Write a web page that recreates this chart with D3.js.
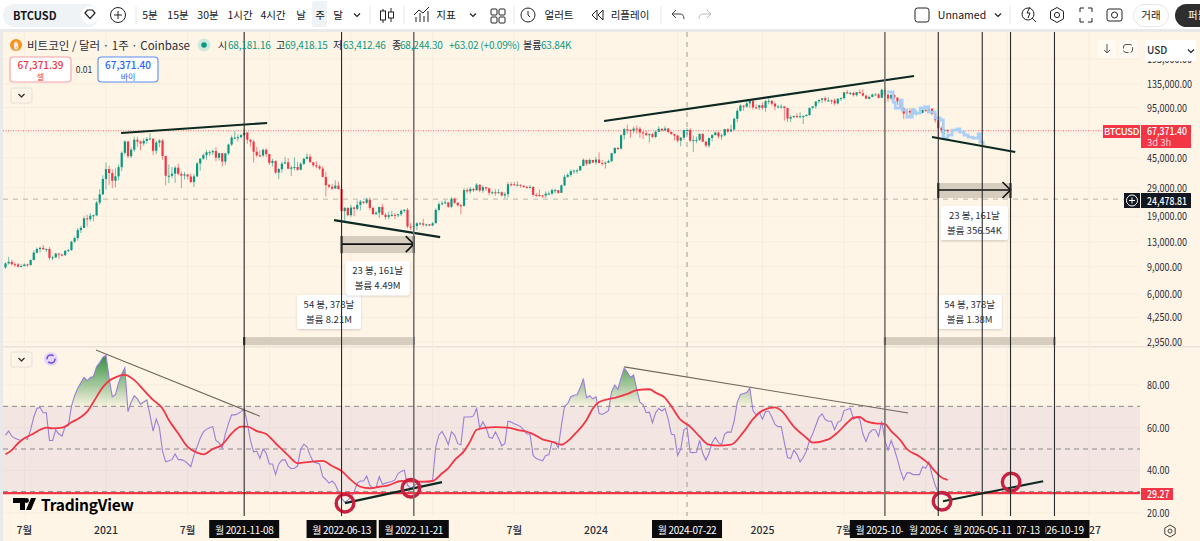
<!DOCTYPE html>
<html><head><meta charset="utf-8">
<script src="https://cdn.jsdelivr.net/npm/d3@7/dist/d3.min.js"></script>
<style>
html,body{margin:0;padding:0;background:#fff;overflow:hidden}
svg{display:block}
text{font-family:"Noto Sans CJK KR","Noto Sans",sans-serif;fill:#131722}
</style></head><body><svg id="c" width="1200" height="541" viewBox="0 0 1200 541"></svg>
<script>
// ---------- data (weekly, first candle 2020-05-25) ----------
const firstWeek = "2020-05-25";
const firstOpen = 8900;
const closes = [9450,9670,9340,9300,9000,9070,9300,9210,9930,11080,11680,11900,11650,11700,10250,10330,10930,10780,10680,11380,11500,13030,13750,15480,15970,18400,18190,19150,19270,23250,26270,33000,
38200,36000,32100,34300,39300,48600,57500,46200,50900,59000,57400,55800,58000,59800,60000,50100,56600,58300,46400,34600,34600,35700,39000,35600,34700,35300,34250,31530,34300,41500,44600,47000,49000,49000,49900,45200,48300,42700,48200,54900,60900,60900,61300,63200,65500,59000,57300,49400,46800,46700,50800,47700,
41900,43100,36300,38200,41400,42200,38400,39100,39400,37800,41300,44500,45800,42200,40400,39700,38500,34000,30100,29400,28600,29900,28400,20500,21500,19300,21600,21200,22500,23600,23200,24300,21500,19550,20000,21800,19400,18800,19300,19400,19250,19570,20600,20900,16300,16280,16450,17100,17100,16750,16840,16540,
17120,20870,22700,23030,23320,21860,24630,23170,22350,22150,27990,27480,28450,27900,30300,27800,29230,28700,26910,27100,26850,27100,25850,26340,30540,30470,30290,30290,29860,29350,29050,29300,26050,26010,25870,25830,26530,26580,27970,27970,26860,29990,34080,35050,37060,37390,37470,39970,43800,41370,43720,42150,
43950,41800,41600,42000,43000,48300,52150,51730,63100,68900,68400,67200,69600,69400,65700,64900,63100,64000,61500,66300,69300,67800,69650,66200,64300,62700,58200,60800,68100,68200,58200,58700,58900,64200,57300,54150,60500,63200,65600,62000,62900,69000,66600,68700,80400,90500,97700,96400,101100,104500,95200,95000,98300,
94500,104400,104800,100600,96500,96500,96600,94300,80600,82500,83800,82300,83500,83700,85100,94600,96900,104100,106500,109000,105700,105700,105500,101000,108300,109200,119100,117300,117900,114200,119300,117500,113500,108300,111200,115300,115300,109700,123500,115000,108700,114500,110100,104000,94200,86800,90400,88200,88200,88200,87900,91500,
90500,93500,86500,78700,70000,68181,68244,67371];
const highs = [9600,10400,10000,9600,9500,9400,9450,9400,10000,11450,11950,12100,12400,11800,12050,10580,11050,10980,10900,11500,11720,13200,14050,15950,16500,18950,19400,19900,19500,23800,28400,34800,
42000,40100,38000,38500,40900,49700,58400,57500,52600,61800,61700,58500,60200,61200,64900,57600,58000,59500,59600,46000,40800,39400,40000,41300,36700,36600,35200,35800,35400,42500,44700,48100,50500,50500,51000,52900,48800,48500,48500,55700,62900,67000,63700,64300,69000,66300,59400,59000,53000,50200,51800,52100,
47600,44500,43500,38900,42600,45800,44800,40000,45400,42500,42300,45100,48200,47500,42400,42900,40800,39800,36600,30700,30700,32400,31700,29500,21800,21600,22500,21900,24000,24200,23700,25000,25200,21800,20500,21800,22800,19900,20300,20500,19900,19700,21000,21100,21500,17200,17000,17400,17400,18300,17000,16900,
17400,21300,23400,23800,24200,23400,25200,25000,23500,22800,28800,28900,29200,28900,31000,30500,30000,29300,29100,27600,28300,28400,27400,27100,31400,31500,31500,31800,30400,30000,29800,30200,29700,26800,28200,26100,27500,27500,28600,28600,28000,30400,35200,35900,38000,37900,38400,40200,44700,43500,44700,43700,
45900,48900,43600,42800,43900,48600,52800,52900,64000,70200,73800,68100,71700,72800,71300,67100,67200,65000,65500,67700,71900,70000,71900,70000,66500,63400,63800,61400,68400,70000,70000,62800,61800,65000,65000,58000,61000,64100,66500,66500,64400,69500,70000,73600,81800,93500,99800,98700,103900,105000,108300,99900,99000,
102700,106000,109000,106500,102500,98800,99500,96000,95000,85000,84500,87500,88500,85000,86100,86500,95800,97900,104300,107000,111900,111000,106800,108900,108700,110500,119500,123200,120000,120000,119300,124400,124500,113500,113400,116700,117900,117900,125700,126200,115900,116000,116400,110800,107000,95500,93000,94000,94600,90500,90600,94800,
94800,97800,93500,89000,79000,72000,69418,68700];
const lows = [8700,9280,9100,8950,8900,8950,9050,9000,9150,9900,10950,11100,11550,11150,9900,9880,10200,10150,10500,10550,11200,11400,12800,13200,14800,15950,16300,17600,17600,19000,22500,26000,
28200,30100,28800,29200,32300,37000,47100,44900,44900,49300,53100,50400,54000,55500,58700,47000,47500,52900,43900,30000,31000,33400,31100,34900,28800,32700,32700,31000,29300,33900,37300,43800,43900,46400,47000,42800,43400,39700,40700,47000,53900,59600,57500,60100,62300,55600,53300,42000,45500,45600,45600,45700,
40600,39700,35500,32900,36200,41800,38100,34400,37500,37200,37600,40500,44200,42700,39200,38600,37700,33700,25400,28700,28000,28900,28200,20100,17600,19000,18800,19000,20700,20700,22700,22700,20800,19500,19600,18500,19400,18100,18100,18900,18200,18700,19100,20000,15900,15500,15400,15500,16700,16300,16300,16400,
16500,17300,20400,22300,22700,21500,21400,22800,21900,19600,21900,26600,26500,27200,27800,27100,26900,27700,25900,26300,25800,26500,25400,24800,25000,29500,29900,29500,29000,28900,28600,28700,25400,25300,25300,24900,24900,26000,26000,26600,26500,26800,29700,33500,34100,35500,35700,37000,39900,40200,41000,41600,
40800,41500,40200,38500,41900,42300,47700,50500,50900,59000,64500,60800,65000,64500,60700,59600,62400,56500,60800,60200,66200,66700,67100,65000,63400,58400,56500,53500,59000,63300,57100,49000,56100,57800,57200,52600,52500,57500,62700,59900,59000,62000,65300,66800,67500,76500,89500,90700,94600,94400,92200,92500,91500,
91800,89200,99500,97700,91200,94000,93300,78200,76600,76600,81100,81700,81200,74500,83100,83900,92800,93300,100800,101500,102900,103100,100300,98200,99600,105000,107400,116000,114800,111900,111900,116700,112000,108000,107300,110700,114800,108700,112500,102000,103500,106500,106300,98900,94000,80500,86000,83800,84700,84500,86500,87000,
89500,90000,84500,75700,60000,65100,63412,65000];
const rsiValues = [56.5,58.4,56,55,54.5,54,55,54.5,59,65,
69,69.5,67,67,54,54,59,57,56,60.5,
61,70,75,78.5,81,83.6,82,83.5,84,88.5,
90.5,93,94,83,74.5,75.5,81,85,88,67.5,
72,75,73.5,71,72,73,66,58.4,64,60,
49,44,44.5,45,47.7,45,45,44.4,43.2,41.7,
47,51,55,58,59.2,60,60.5,54,53,50.5,
57,62,66,66,66.5,67.5,68.6,62,54,48.7,
49,45.6,50,48,43,43,38,43,44.8,45,
42,40.8,41,42,50,52.2,51,47,44,43.5,
43,37,35.7,34,35,33.5,30,27,25,26,
27.5,30,34,35,35,37.3,33,31.6,32,37,
33.5,34,34.4,34.8,35.5,38.5,39.5,40,33,31.6,
32.5,34,34.5,34.7,34.5,34.4,35.5,51,56.6,58.2,
55.5,52,58,56.5,52.5,52,65,65,65,65.5,
69,59.7,62.8,60,55.5,55,58,55,51.5,52.5,
63,62.6,61.8,61.2,60.5,59,57,57,47,45.5,
45,44.5,47,47.3,53.4,53.4,50.5,61,70,71.2,
74.5,75.2,75.4,78.8,83,74,75,73.5,74.5,66.7,
66.2,67,68,77,80,78,83.3,88,86,83.5,
84.7,78,72,70.8,67,67.3,62.3,67,69,67.8,
69,64,57,56.6,47,50,59,60,48.5,48.3,
48.5,54,48,44.8,48,53,55.5,53,52,57,
58,57.8,63,72,75.6,76,76.5,78.5,68,66,
67.2,64,67.5,67.8,65,61.5,60.5,60.5,53,46,
45.5,49.5,47.5,44,46,49,54,57,61,65,
66.5,63.8,63,63,59,62.5,63.3,68,68.5,69,
64,65,64,57,53.5,57.5,59,59,56,63,
54,49.5,54,50,45,39.6,35.6,38.8,38.8,38,
38,38,41.7,41,44,38,33,29.7,29,28.5,28];
const smaWeeks = [0,2,4,6,9,11,13,15,18,21,24,26,28,31,33,35,38,41,44,47,50,52,55,58,61,63,66,69,72,75,77,80,83,86,90,93,97,101,104,107,110,113,116,119,122,126,130,133,136,139,141,143,146,148,150,153,156,160,163,168,171,174,177,179,181,185,187,189,192,194,198,201,205,207,210,212,215,218,221,224,227,231,235,238,241,245,247,251,255,257,262,265,268,270,272,274,277,280,282,285,287,291,294,296,298,300];
const smaValues = [47.5,49.5,52.7,55,57.3,59,60,59.7,60,62.5,65,67.5,72,79,82,83.6,84.7,82.3,77.6,73,69,63.6,57.3,51,48.3,47.5,50,52,57.3,60.5,60.5,58.4,57,52.7,47,43.3,44,44.4,42,39.7,35.5,32.3,31.6,32.3,33,35,34.7,34.7,35,38.6,41,44.8,49,53.7,59,60,60.3,60,59,57,54.5,53.4,52,53.7,56.6,63.6,69,72,73.4,74,75.8,77.6,78,76.4,74,70,63.6,60.5,55.8,52,51.6,52,58,64,68,69.5,68,60.5,55.3,53,54.5,57.8,62.3,64.7,65,63,62,61.7,58.4,54,50,46.5,43,39.5,36.7,35.5];
const ghostWeeks = [280.7,282.6,283.3,284.8,285.5,287,288.7,289.6,291.2,292.8,293.8,296,297.6,298.6,300,301.4,303,303.9,305.2,306.5,308,309.7,310.3,311.3];
const ghostPrices = [119600,103100,94350,106200,91600,82600,91600,87600,94350,95800,88900,81400,79000,60500,63200,68100,69200,66100,63200,61400,60500,64200,57000,54500];
const priceTicks = [195000,135000,95000,65000,45000,29000,19000,13000,9000,6000,4250,2950];
const priceLabels = [195000,135000,95000,45000,29000,19000,13000,9000,6000,4250,2950];
const rsiTicks = [80,60,40,20];
const rsiLevels = [70,50,30];
const timeGrid = ["2020-07-06","2021-01-04","2021-07-05","2022-01-03","2022-07-04","2023-01-02","2023-07-03","2024-01-01","2024-07-01","2025-01-06","2025-07-07","2026-01-05","2026-07-06","2027-01-04"];
const timeTicks = [["2020-07-06","7월"],["2021-01-04","2021"],["2021-07-05","7월"],["2023-07-03","7월"],["2024-01-01","2024"],["2025-01-06","2025"],["2025-07-07","7월"],["2027-01-04","2027"]];
const markerDates = ["2021-11-08","2022-06-13","2022-11-21","2025-10-06","2026-02-02","2026-05-11","2026-07-13","2026-10-19"];
const thickMarkers = ["2022-11-21","2025-10-06"];
const markerDrawOrder = ["2021-11-08","2022-06-13","2022-11-21","2024-07-22","2025-10-06","2026-02-02","2026-10-19","2026-07-13","2026-05-11"];
const crossDate = "2024-07-22";
const crossPrice = 24478.81;
const lastPrice = 67371.40;
const rsiFloor = 29.27;
const priceTrends = [[36.8,65150,83.3,75580],[104.6,17950,138.4,13960],[190.6,77860,289.3,151600],[295,61400,321.5,49160]];
const rsiFalling = [[28.8,96.4,81,65.4],[197,88.5,287.4,66.9]];
const rsiRising = [[108.1,24.6,139,34.5],[298.5,25.5,330.4,34.9]];
const rsiCircles = [[108.1,24.6],[129.1,31.6],[298.2,25.5],[320.2,34.5]];
const measures = [
 {from:"2021-11-08",to:"2022-11-21",top:3171,bottom:2817,label:"54 봉, 378날",vol:"볼륨 8.21M",above:true,arrow:null},
 {from:"2022-06-13",to:"2022-11-21",top:14170,bottom:11000,label:"23 봉, 161날",vol:"볼륨 4.49M",above:false,arrow:12570},
 {from:"2025-10-06",to:"2026-10-19",top:3171,bottom:2817,label:"54 봉, 378날",vol:"볼륨 1.38M",above:true,arrow:null},
 {from:"2026-02-02",to:"2026-07-13",top:31060,bottom:24870,label:"23 봉, 161날",vol:"볼륨 356.54K",above:false,arrow:28000}
];

// ---------- helpers / scales ----------
const PL=3, PR=1140, TOP=32, SPLIT=346, BOT=516;
const GREEN="#089981", RED="#f23645", CREAM="#fff5e6", GRID="#f6eddf", DARK="#131722";
const weekOf = s => (Date.parse(s)-Date.parse(firstWeek))/(7*864e5);
const x = d3.scaleLinear().domain([0,300]).range([5.5,947.7]);
const xd = s => x(weekOf(s));
const yP = d3.scaleLog().domain([195000,2950]).range([59,342]);
const yR = d3.scaleLinear().domain([80,20]).range([385,513]);
const fmt = d3.format(",.2f");
const svg = d3.select("#c");
const defs = svg.append("defs");
const shadow = defs.append("filter").attr("id","sh").attr("x","-20%").attr("y","-20%").attr("width","140%").attr("height","150%");
shadow.append("feDropShadow").attr("dx",0).attr("dy",1).attr("stdDeviation",1.2).attr("flood-color","#000").attr("flood-opacity",.18);
const grad = defs.append("linearGradient").attr("id","gg").attr("gradientUnits","userSpaceOnUse").attr("x1",0).attr("x2",0).attr("y1",yR(92)).attr("y2",yR(70));
grad.append("stop").attr("offset",0).attr("stop-color","#2f8f3d").attr("stop-opacity",.92);
grad.append("stop").attr("offset",1).attr("stop-color","#2f8f3d").attr("stop-opacity",.03);
defs.append("clipPath").attr("id","above70").append("rect").attr("x",PL).attr("width",PR-PL).attr("y",TOP).attr("height",yR(70)-TOP);
defs.append("clipPath").attr("id","plot").append("rect").attr("x",PL).attr("width",PR-PL).attr("y",TOP).attr("height",BOT-TOP);

const T=(sel,xx,yy,t,o={})=>sel.append("text").attr("x",xx).attr("y",yy).text(t)
  .attr("font-size",o.s||10.5).attr("text-anchor",o.a||"start").style("fill",o.c||DARK).attr("font-weight",o.w||400).attr("letter-spacing",o.ls||null);
// axis numbers are drawn condensed, as in the reference
const numWidth = s => s.split("").reduce((a,ch)=>a+(/[0-9]/.test(ch)?5:2.5),0);
const N=(sel,xx,yy,s,c,w)=>T(sel,xx,yy,s,{s:11,c:c||"#2a2e39",w:w||400}).attr("textLength",numWidth(s)).attr("lengthAdjust","spacingAndGlyphs");

// ---------- backgrounds ----------
svg.append("rect").attr("x",0).attr("y",0).attr("width",1200).attr("height",541).attr("fill",CREAM);
svg.append("rect").attr("x",0).attr("y",29).attr("width",1200).attr("height",3).attr("fill","#e9e9ea");
svg.append("rect").attr("x",0).attr("y",29).attr("width",3).attr("height",512).attr("fill","#e9e9ea");
svg.append("rect").attr("x",3).attr("y",SPLIT).attr("width",1197).attr("height",1.6).attr("fill","#e8e4dc");

// grid
const grid = svg.append("g").attr("stroke",GRID).attr("stroke-width",1);
grid.selectAll(".v").data(timeGrid).join("line").attr("x1",d=>xd(d)).attr("x2",d=>xd(d)).attr("y1",TOP).attr("y2",BOT);
grid.selectAll(".p").data(priceTicks).join("line").attr("x1",PL).attr("x2",PR).attr("y1",d=>yP(d)).attr("y2",d=>yP(d));
grid.selectAll(".r").data(rsiTicks).join("line").attr("x1",PL).attr("x2",PR).attr("y1",d=>yR(d)).attr("y2",d=>yR(d));

// RSI band
svg.append("rect").attr("x",PL).attr("width",PR-PL).attr("y",yR(70)).attr("height",yR(30)-yR(70)).attr("fill","#7e57c2").attr("opacity",.09);
svg.append("g").selectAll("line").data(rsiLevels).join("line").attr("x1",PL).attr("x2",PR).attr("y1",d=>yR(d)).attr("y2",d=>yR(d))
  .attr("stroke","#8d8a86").attr("stroke-dasharray","5 4").attr("stroke-width",1);

// crosshair
svg.append("line").attr("x1",xd(crossDate)).attr("x2",xd(crossDate)).attr("y1",TOP).attr("y2",BOT).attr("stroke","#9c9a96").attr("stroke-dasharray","5 5");
svg.append("line").attr("x1",PL).attr("x2",PR).attr("y1",yP(crossPrice)).attr("y2",yP(crossPrice)).attr("stroke","#b5b2ac").attr("stroke-dasharray","5 5");
// last price line
svg.append("line").attr("x1",PL).attr("x2",PR).attr("y1",yP(lastPrice)).attr("y2",yP(lastPrice)).attr("stroke",RED).attr("stroke-dasharray","1 1.5").attr("opacity",.8);

// ---------- candles ----------
const opens = closes.map((c,i)=> i? closes[i-1] : firstOpen);
const candles = closes.map((c,i)=>({i,o:opens[i],h:highs[i],l:lows[i],c}));
const cg = svg.append("g").attr("clip-path","url(#plot)");
cg.selectAll(".w").data(candles).join("line").attr("x1",d=>x(d.i)).attr("x2",d=>x(d.i)).attr("y1",d=>yP(d.h)).attr("y2",d=>yP(d.l))
  .attr("stroke",d=>d.c>=d.o?GREEN:RED).attr("stroke-opacity",.75).attr("stroke-width",.8);
cg.selectAll(".b").data(candles).join("rect").attr("x",d=>x(d.i)-1.1).attr("width",2.2)
  .attr("y",d=>Math.min(yP(d.o),yP(d.c))).attr("height",d=>Math.max(1,Math.abs(yP(d.o)-yP(d.c))))
  .attr("fill",d=>d.c>=d.o?GREEN:RED);

// ghost path
svg.append("path").datum(d3.range(ghostWeeks.length)).attr("fill","none").attr("stroke","#a7cdf8").attr("stroke-width",2.8).attr("opacity",.95)
  .attr("d",d3.line().curve(d3.curveStepAfter).x(i=>x(ghostWeeks[i])).y(i=>yP(ghostPrices[i])));

// price trend lines
svg.append("g").selectAll("line").data(priceTrends).join("line")
  .attr("x1",d=>x(d[0])).attr("y1",d=>yP(d[1])).attr("x2",d=>x(d[2])).attr("y2",d=>yP(d[3]))
  .attr("stroke","#0b2a22").attr("stroke-width",2.2);

// ---------- RSI ----------
const rg = svg.append("g");
rg.append("path").datum(rsiValues).attr("clip-path","url(#above70)").attr("fill","url(#gg)")
  .attr("d",d3.area().x((d,i)=>x(i)).y0(yR(70)).y1(d=>yR(d)));
rg.append("path").datum(rsiValues).attr("fill","none").attr("stroke","#9a7fd6").attr("stroke-width",1.1)
  .attr("d",d3.line().x((d,i)=>x(i)).y(d=>yR(d)));
rg.append("path").datum(d3.range(smaWeeks.length)).attr("fill","none").attr("stroke",RED).attr("stroke-width",1.8)
  .attr("d",d3.line().curve(d3.curveMonotoneX).x(i=>x(smaWeeks[i])).y(i=>yR(smaValues[i])));
rg.append("line").attr("x1",PL).attr("x2",PR).attr("y1",yR(rsiFloor)).attr("y2",yR(rsiFloor)).attr("stroke",RED).attr("stroke-width",2.2);
rg.selectAll(".f").data(rsiFalling).join("line").attr("x1",d=>x(d[0])).attr("y1",d=>yR(d[1])).attr("x2",d=>x(d[2])).attr("y2",d=>yR(d[3]))
  .attr("stroke","#6f675c").attr("stroke-width",1.1);
rg.selectAll(".u").data(rsiRising).join("line").attr("x1",d=>x(d[0])).attr("y1",d=>yR(d[1])).attr("x2",d=>x(d[2])).attr("y2",d=>yR(d[3]))
  .attr("stroke","#0b2a22").attr("stroke-width",2.2);
rg.selectAll("circle").data(rsiCircles).join("circle").attr("cx",d=>x(d[0])).attr("cy",d=>yR(d[1])).attr("r",8.8)
  .attr("fill","none").attr("stroke","#c9203f").attr("stroke-width",3.4);

// ---------- measures ----------
const mg = svg.append("g");
measures.forEach(m=>{
  const x0=xd(m.from),x1=xd(m.to),yt=yP(m.top),yb=yP(m.bottom);
  mg.append("rect").attr("x",x0).attr("width",x1-x0).attr("y",yt).attr("height",yb-yt).attr("fill","#d6cdbf");
  mg.append("line").attr("x1",x0).attr("x2",x0).attr("y1",yt).attr("y2",yb).attr("stroke","#111").attr("stroke-width",2);
  mg.append("line").attr("x1",x1).attr("x2",x1).attr("y1",yt).attr("y2",yb).attr("stroke","#111").attr("stroke-width",m.arrow?2:1.5);
  if(m.arrow){
    const ya=yP(m.arrow);
    mg.append("line").attr("x1",x0).attr("x2",x1).attr("y1",ya).attr("y2",ya).attr("stroke","#111").attr("stroke-width",1.6);
    mg.append("path").attr("fill","none").attr("stroke","#111").attr("stroke-width",1.6).attr("d",`M${x1-8},${ya-8}L${x1},${ya}L${x1-8},${ya+8}`);
  }
  const w=m.vol.length>8?67:64, cx=(x0+x1)/2, by=m.above? yt-42 : yb+8;
  mg.append("rect").attr("x",cx-w/2).attr("y",by).attr("width",w).attr("height",34).attr("rx",2).attr("fill","#fff").attr("filter","url(#sh)");
  T(mg,cx,by+13,m.label,{a:"middle",s:9.5,c:"#2a2e39"});
  T(mg,cx,by+28,m.vol,{a:"middle",s:9.5,c:"#2a2e39"});
});

// vertical markers
svg.append("g").selectAll("line").data(markerDates).join("line").attr("x1",d=>xd(d)).attr("x2",d=>xd(d)).attr("y1",TOP).attr("y2",BOT)
  .attr("stroke",d=>thickMarkers.includes(d)?"#76736f":"#2b2b2b").attr("stroke-width",d=>thickMarkers.includes(d)?1.6:1.1);

// ---------- axes ----------
const ax = svg.append("g");
priceLabels.forEach(p=>N(ax,1147,yP(p)+4,fmt(p)));
rsiTicks.forEach(r=>N(ax,1147,yR(r)+4,fmt(r)));
timeTicks.forEach(t=>T(ax,xd(t[0]),534,t[1],{a:"middle",s:10.5,c:"#2a2e39",w:500}));

// time marker boxes
markerDrawOrder.forEach(d=>{
  const cx=xd(d);
  ax.append("rect").attr("x",cx-35).attr("y",520).attr("width",70).attr("height",18).attr("fill","#0b0b0d");
  T(ax,cx,533.5,"월 "+d,{a:"middle",s:10,c:"#fff",ls:-.35});
});

// price tags
svg.append("rect").attr("x",1103).attr("y",125).attr("width",37).attr("height",13).attr("fill",RED);
T(svg,1121.5,135,"BTCUSD",{a:"middle",s:9.5,c:"#fff",w:500,ls:-.3});
svg.append("rect").attr("x",1141).attr("y",125).attr("width",50).attr("height",23).attr("fill",RED);
N(svg,1147,135,fmt(lastPrice),"#fff",500);
T(svg,1147,146,"3d 3h",{s:9.5,c:"#ffd5d8"});
svg.append("rect").attr("x",1124).attr("y",193).attr("width",16).attr("height",15).attr("fill",DARK);
svg.append("rect").attr("x",1141).attr("y",193).attr("width",50).attr("height",15).attr("fill",DARK);
svg.append("circle").attr("cx",1132).attr("cy",200.5).attr("r",5.5).attr("fill","none").attr("stroke","#fff");
svg.append("path").attr("d","M1129,200.5h6M1132,197.5v6").attr("stroke","#fff");
N(svg,1147,204.5,fmt(crossPrice),"#fff",500);
svg.append("rect").attr("x",1141).attr("y",488).attr("width",32).attr("height",12).attr("fill",RED);
N(svg,1147,498,rsiFloor.toFixed(2),"#fff",500);

// settings gear bottom right
svg.append("path").attr("d",d3.range(7).map(i=>{const a=i*Math.PI/3;return (i?"L":"M")+(1170+6*Math.sin(a)).toFixed(1)+","+(531+6*Math.cos(a)).toFixed(1)}).join("")).attr("fill","none").attr("stroke","#444");
svg.append("circle").attr("cx",1170).attr("cy",531).attr("r",2).attr("fill","none").attr("stroke","#444");

// TradingView logo
const tv=svg.append("g");
tv.append("path").attr("fill","#000").attr("d","M13,498h12v12h-5v-7h-7zM31,498h5l-5,12h-5z");
tv.append("circle").attr("cx",26.5).attr("cy",500.5).attr("r",2.4).attr("fill","#000");
T(tv,41,511,"TradingView",{s:15.5,w:700,c:"#000",ls:-.2});

// ---------- legend ----------
svg.append("circle").attr("cx",16).attr("cy",45).attr("r",6).attr("fill","#f7931a");
T(svg,16,48.5,"₿",{a:"middle",s:9,c:"#fff",w:700});
T(svg,27,49.5,"비트코인 / 달러 · 1주 · Coinbase",{s:11.5,c:"#2a2e39"});
svg.append("circle").attr("cx",204).attr("cy",45).attr("r",6.5).attr("fill","#cfe9df");
svg.append("circle").attr("cx",204).attr("cy",45).attr("r",2.8).attr("fill",GREEN);
[[218,"시",0],[228,"68,181.16",1],[276,"고",0],[285,"69,418.15",1],[333,"저",0],[343,"63,412.46",1],[392,"종",0],[400,"68,244.30",1],[449,"+63.02 (+0.09%)",1],[523,"볼륨",0],[541,"63.84K",1]]
 .forEach(d=>T(svg,d[0],49,d[1],{s:10,c:d[2]?GREEN:"#2a2e39",ls:d[2]?-.2:null}));

const btn=(bx,by,w,h,stroke,top,bot,col)=>{
  svg.append("rect").attr("x",bx).attr("y",by).attr("width",w).attr("height",h).attr("rx",3.5).attr("fill","#fff").attr("stroke",stroke).attr("stroke-width",1.1);
  T(svg,bx+w/2,by+12,top,{a:"middle",s:10,c:col,w:500});
  T(svg,bx+w/2,by+22.5,bot,{a:"middle",s:8,c:col});
};
btn(10,57,61,25,"#f7a0a8","67,371.39","셀",RED);
btn(98,57,60,25,"#5b8cf5","67,371.40","바이","#2962ff");
T(svg,84,73,"0.01",{a:"middle",s:8.5,c:"#2a2e39"});
const chev=(cx,cy,c)=>svg.append("path").attr("d",`M${cx-3},${cy-1.5}L${cx},${cy+1.5}L${cx+3},${cy-1.5}`).attr("fill","none").attr("stroke",c||"#222").attr("stroke-width",1.2);
const chevBox=(bx,by)=>{svg.append("rect").attr("x",bx).attr("y",by).attr("width",21).attr("height",15).attr("rx",2).attr("fill",CREAM).attr("stroke","#e3dfd6");chev(bx+10.5,by+7.5);};
chevBox(11,88); chevBox(11,352);
svg.append("circle").attr("cx",51).attr("cy",359).attr("r",7).attr("fill","#e4d9f5");
svg.append("circle").attr("cx",51).attr("cy",359).attr("r",4).attr("fill","none").attr("stroke","#7b45e0").attr("stroke-width",1.6).attr("stroke-dasharray","9 3");

// right top controls
[[1098,40,18],[1119,40,18]].forEach(d=>svg.append("rect").attr("x",d[0]).attr("y",d[1]).attr("width",d[2]).attr("height",18).attr("rx",2).attr("fill","#fffaf2"));
svg.append("path").attr("d","M1107,44v9M1104,50l3,3l3,-3").attr("fill","none").attr("stroke","#555");
svg.append("rect").attr("x",1123.5).attr("y",44.5).attr("width",9).attr("height",8).attr("rx",2.5).attr("fill","none").attr("stroke","#555").attr("stroke-dasharray","6 2");
svg.append("rect").attr("x",1145).attr("y",40).attr("width",51).attr("height",21).attr("rx",2).attr("fill","#fff");
T(svg,1147,54,"USD",{s:10,w:500,c:"#2a2e39"});
chev(1191,51);

// ---------- toolbar ----------
svg.append("rect").attr("x",0).attr("y",0).attr("width",1200).attr("height",29).attr("fill","#fff");
svg.append("rect").attr("x",3).attr("y",4).attr("width",96).attr("height",23).attr("rx",11.5).attr("fill","#f0f3f6");
T(svg,13,19.5,"BTCUSD",{s:11,w:700,c:"#131722"});
svg.append("circle").attr("cx",90).attr("cy",15).attr("r",9).attr("fill","#fff");
svg.append("path").attr("d","M85,13l2.5,-3h5l2.5,3l-5,5.5z").attr("fill","none").attr("stroke","#222").attr("stroke-width",1.2);
svg.append("circle").attr("cx",118).attr("cy",15).attr("r",7.5).attr("fill","none").attr("stroke","#222");
svg.append("path").attr("d","M114,15h8M118,11v8").attr("stroke","#222");
[136,370,404,514,661,1010].forEach(sx=>svg.append("line").attr("x1",sx).attr("x2",sx).attr("y1",6).attr("y2",24).attr("stroke","#e6e6e6"));
svg.append("rect").attr("x",312).attr("y",1).attr("width",15).attr("height",26).attr("rx",3).attr("fill","#f0f3f6");
svg.append("rect").attr("x",1133.5).attr("y",4.5).attr("width",35).attr("height",22).attr("rx",11).attr("fill","#fff").attr("stroke","#e6e6e6");
[[150,"5분"],[178,"15분"],[208,"30분"],[240,"1시간"],[273,"4시간"],[301,"날"],[320,"주"],[338,"달"],[446,"지표"],[559,"얼러트"],[630,"리플레이"],[962,"Unnamed"],[1151,"거래"]]
 .forEach(d=>T(svg,d[0],19,d[1],{a:"middle",s:10.5,c:"#131722"}));
chev(357,15); chev(473,15); chev(998,15);
// candle icon
svg.append("path").attr("d","M383,9v14M391,8v14").attr("stroke","#222");
svg.append("rect").attr("x",380.5).attr("y",11).attr("width",5).attr("height",9).attr("fill","#fff").attr("stroke","#222");
svg.append("rect").attr("x",388.5).attr("y",12).attr("width",5).attr("height",6).attr("fill","#fff").attr("stroke","#222");
// indicators icon
svg.append("path").attr("d","M416,22V17M420,22V13M424,22V16M428,22V11M414,15l5,-5l4,3l6,-6").attr("fill","none").attr("stroke","#222");
// layout grid icon
[[491,9],[499,9],[491,17],[499,17]].forEach(d=>svg.append("rect").attr("x",d[0]).attr("y",d[1]).attr("width",6).attr("height",6).attr("rx",1).attr("fill","none").attr("stroke","#222"));
// alert icon
svg.append("circle").attr("cx",528).attr("cy",15).attr("r",7).attr("fill","none").attr("stroke","#222");
svg.append("path").attr("d","M528,11v4l2,2").attr("fill","none").attr("stroke","#222");
// replay icon
svg.append("path").attr("d","M597,10l-5,5l5,5zM603,10l-5,5l5,5z").attr("fill","none").attr("stroke","#222");
// undo/redo
svg.append("path").attr("d","M672,14l4,-4M672,14l4,4M672,14h8q4,0 4,5").attr("fill","none").attr("stroke","#444");
svg.append("path").attr("d","M711,14l-4,-4M711,14l-4,4M711,14h-8q-4,0 -4,5").attr("fill","none").attr("stroke","#bbb");
// right icons
svg.append("rect").attr("x",915).attr("y",8).attr("width",14).attr("height",14).attr("rx",2.5).attr("fill","none").attr("stroke","#222");
svg.append("circle").attr("cx",1028).attr("cy",14).attr("r",6).attr("fill","none").attr("stroke","#222");
svg.append("path").attr("d","M1032,18l4,4M1030,7l-3,6h3l-2,5").attr("fill","none").attr("stroke","#222");
svg.append("path").attr("d",d3.range(7).map(i=>{const a=i*Math.PI/3;return (i?"L":"M")+(1057+7.5*Math.sin(a)).toFixed(1)+","+(15+7.5*Math.cos(a)).toFixed(1)}).join("")).attr("fill","none").attr("stroke","#222");
svg.append("circle").attr("cx",1057).attr("cy",15).attr("r",2.6).attr("fill","none").attr("stroke","#222");
svg.append("path").attr("d","M1080,12V8h4M1088,8h4v4M1092,18v4h-4M1084,22h-4v-4").attr("fill","none").attr("stroke","#222");
svg.append("rect").attr("x",1107).attr("y",9).attr("width",15).attr("height",12).attr("rx",2).attr("fill","none").attr("stroke","#222");
svg.append("circle").attr("cx",1114.5).attr("cy",15).attr("r",3).attr("fill","none").attr("stroke","#222");
svg.append("rect").attr("x",1175).attr("y",4).attr("width",40).attr("height",23).attr("rx",11.5).attr("fill","#2e2e2e");
T(svg,1188,19,"퍼블",{a:"start",s:10.5,c:"#fff"});
</script></body></html>
